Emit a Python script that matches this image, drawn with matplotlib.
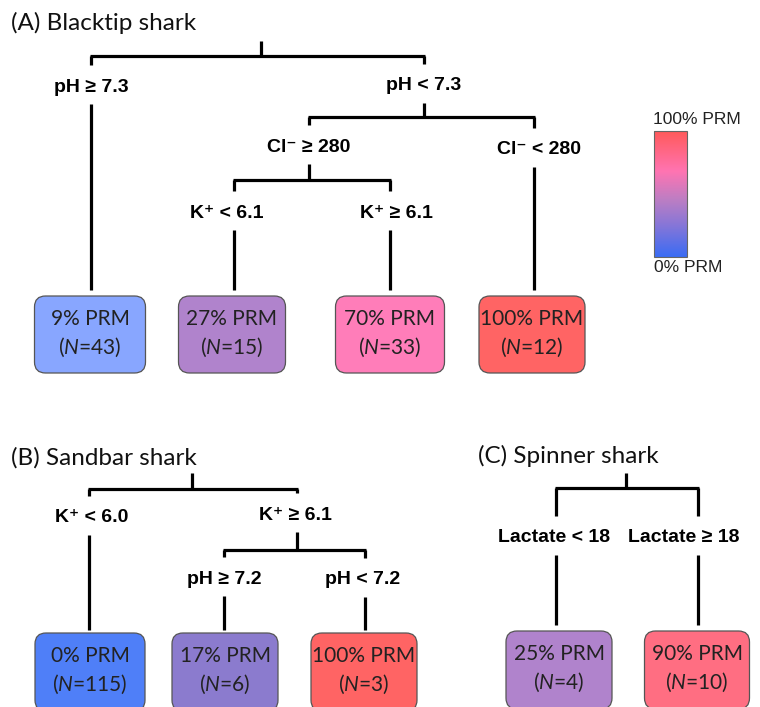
import matplotlib.pyplot as plt
from matplotlib.patches import FancyBboxPatch, Rectangle
from matplotlib.colors import LinearSegmentedColormap
import numpy as np

plt.rcParams['mathtext.fontset'] = 'custom'
plt.rcParams['mathtext.rm'] = 'Lato'
plt.rcParams['mathtext.it'] = 'Lato:italic'

# --- tree contents ---
titles = ["(A) Blacktip shark", "(B) Sandbar shark", "(C) Spinner shark"]

splits_A = ["pH \u2265 7.3", "pH < 7.3", "Cl\u207b \u2265 280", "Cl\u207b < 280",
            "K\u207a < 6.1", "K\u207a \u2265 6.1"]
prm_A = [9, 27, 70, 100]
n_A = [43, 15, 33, 12]

splits_B = ["K\u207a < 6.0", "K\u207a \u2265 6.1", "pH \u2265 7.2", "pH < 7.2"]
prm_B = [0, 17, 100]
n_B = [115, 6, 3]

splits_C = ["Lactate < 18", "Lactate \u2265 18"]
prm_C = [25, 90]
n_C = [4, 10]

cbar_labels = ["100% PRM", "0% PRM"]

# leaf fill colours
fill_A = ['#88a6ff', '#b083cc', '#ff7db9', '#ff6464']
fill_B = ['#4f7ff8', '#8b7bce', '#ff6464']
fill_C = ['#b083cc', '#ff6e82']

fig = plt.figure(figsize=(7.6, 7.07), dpi=100)
ax = fig.add_axes([0, 0, 1, 1])
ax.set_xlim(0, 760)
ax.set_ylim(707, 0)
ax.axis('off')

LW = 2.3
title_font = dict(family='Lato', fontsize=17.5, color='#111111')
split_font = dict(family=['Liberation Sans', 'DejaVu Sans'], fontsize=14,
                  fontweight='bold', color='black')
leaf_font = dict(family='Lato', fontsize=15, color='#222222')


def vline(x, y0, y1):
    ax.plot([x, x], [y0, y1], color='black', lw=LW, solid_capstyle='butt')


def hline(y, x0, x1):
    ax.plot([x0 - 1, x1 + 1], [y, y], color='black', lw=LW, solid_capstyle='butt')


def split(text, x, y_bar, y_lab, y_below, dx=0):
    # connector from the bar above, the rule text, then the line below
    vline(x, y_bar, y_lab - 22)
    ax.text(x + dx, y_lab, text, ha='center', va='center', **split_font)
    vline(x, y_lab + 17, y_below)


def leaf(xc, y0, w, h, pct, n, fc):
    box = FancyBboxPatch((xc - w / 2, y0), w, h, boxstyle='round,pad=0,rounding_size=11',
                         fc=fc, ec='#555555', lw=0.9)
    ax.add_patch(box)
    ax.text(xc, y0 + 23, f"{pct}% PRM", ha='center', va='center', **leaf_font)
    ax.text(xc, y0 + 51, f"($\\mathit{{N}}$={n})", ha='center', va='center', **leaf_font)


# (A) Blacktip shark
ax.text(11, 23, titles[0], ha='left', va='center', **title_font)
vline(261, 41, 56)
hline(56, 91, 424)
split(splits_A[0], 91, 56, 87, 290)
split(splits_A[1], 424, 56, 86, 117)
hline(117, 309, 534)
split(splits_A[2], 309, 117, 147, 180)
split(splits_A[3], 534, 117, 150, 290, dx=5)
hline(180, 234, 390)
split(splits_A[4], 234, 180, 213, 290, dx=-7)
split(splits_A[5], 390, 180, 213, 290, dx=6)
for xc, w, p, n, fc in zip([90, 232, 390, 532], [111, 107, 109, 106], prm_A, n_A, fill_A):
    leaf(xc, 296, w, 77, p, n, fc)

# (B) Sandbar shark
ax.text(11, 458, titles[1], ha='left', va='center', **title_font)
vline(192, 473, 489)
hline(489, 89, 297)
split(splits_B[0], 89, 489, 518, 630, dx=3)
split(splits_B[1], 297, 489, 515, 550, dx=-2)
hline(550, 224, 365)
split(splits_B[2], 224, 550, 579, 630)
split(splits_B[3], 365, 550, 580, 630, dx=-2)
for xc, w, p, n, fc in zip([90, 225, 364], [110, 106, 106], prm_B, n_B, fill_B):
    leaf(xc, 633, w, 78, p, n, fc)

# (C) Spinner shark
ax.text(478, 456, titles[2], ha='left', va='center', **title_font)
vline(626, 473, 488)
hline(488, 556, 698)
split(splits_C[0], 556, 488, 538, 625, dx=-2)
split(splits_C[1], 698, 488, 538, 625, dx=-14)
for xc, w, p, n, fc in zip([559, 697], [106, 105], prm_C, n_C, fill_C):
    leaf(xc, 631, w, 78, p, n, fc)

# colour scale for % PRM
cmap = LinearSegmentedColormap.from_list(
    'prm', [(0.0, '#3a6cf4'), (0.25, '#8676d8'), (0.45, '#bb7ec4'),
            (0.68, '#ff74b2'), (1.0, '#ff5a5a')])
grad = np.linspace(1, 0, 256).reshape(-1, 1)
ax.imshow(grad, cmap=cmap, aspect='auto', extent=[654, 687, 257, 131], zorder=2)
ax.add_patch(Rectangle((654, 131), 33, 126, fill=False, ec='#666666', lw=0.8, zorder=3))
cb_font = dict(family='Liberation Sans', fontsize=12.5, color='#222222')
ax.text(653, 120, cbar_labels[0], ha='left', va='center', **cb_font)
ax.text(654, 267, cbar_labels[1], ha='left', va='center', **cb_font)
ax.set_xlim(0, 760)
ax.set_ylim(707, 0)

fig.savefig('out.png', dpi=100)
